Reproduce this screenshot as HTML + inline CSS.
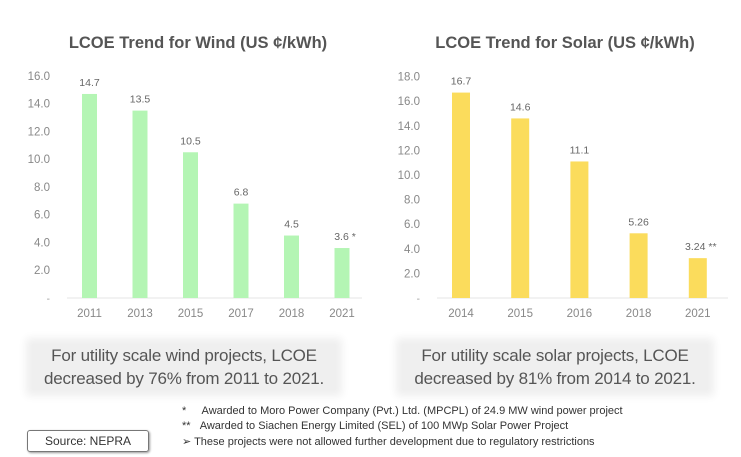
<!DOCTYPE html>
<html><head><meta charset="utf-8"><style>
body{margin:0;width:741px;height:457px;background:#fff;font-family:"Liberation Sans",sans-serif;overflow:hidden;position:relative}
.title{position:absolute;top:34px;font-weight:bold;font-size:16.5px;color:#555;text-align:center;width:340px}
.note{position:absolute;background:#efefef;box-shadow:0 0 8px 6px #efefef;color:#555;font-size:17px;line-height:23px;text-align:center;white-space:nowrap;letter-spacing:-0.2px}
.fn{position:absolute;font-size:11px;color:#333;white-space:nowrap}
</style></head><body>
<div class="title" style="left:28px">LCOE Trend for Wind (US ¢/kWh)</div>
<div class="title" style="left:395px">LCOE Trend for Solar (US ¢/kWh)</div>
<svg width="741" height="330" style="position:absolute;left:0;top:0">
<g id="wind"></g><g id="solar"></g></svg>
<div class="note" style="left:32px;top:344px;width:304px;height:46px">For utility scale wind projects, LCOE<br>decreased by 76% from 2011 to 2021.</div>
<div class="note" style="left:402px;top:344px;width:306px;height:46px">For utility scale solar projects, LCOE<br>decreased by 81% from 2014 to 2021.</div>
<div class="fn" style="left:182px;top:405px">*&nbsp;&nbsp;&nbsp;&nbsp;&nbsp;Awarded to Moro Power Company (Pvt.) Ltd. (MPCPL) of 24.9 MW wind power project</div>
<div class="fn" style="left:182px;top:420px">**&nbsp;&nbsp;&nbsp;Awarded to Siachen Energy Limited (SEL) of 100 MWp Solar Power Project</div>
<div class="fn" style="left:182px;top:435px">➢ These projects were not allowed further development due to regulatory restrictions</div>
<div style="position:absolute;left:27px;top:430px;width:120px;height:20px;border:1px solid #777;border-radius:3px;box-shadow:1px 1px 2px #999;font-size:12px;line-height:20px;text-align:center;color:#333">Source: NEPRA</div>
<script>
const windYears=["2011","2013","2015","2017","2018","2021"];
const windValues=[14.7,13.5,10.5,6.8,4.5,3.6];
const windLabels=["14.7","13.5","10.5","6.8","4.5","3.6 *"];
const windTicks=[2,4,6,8,10,12,14,16];
const solarYears=["2014","2015","2016","2018","2021"];
const solarValues=[16.7,14.6,11.1,5.26,3.24];
const solarLabels=["16.7","14.6","11.1","5.26","3.24 **"];
const solarTicks=[2,4,6,8,10,12,14,16,18];
const NS="http://www.w3.org/2000/svg";
function mk(p,t,a,txt){const e=document.createElementNS(NS,t);for(const k in a)e.setAttribute(k,a[k]);if(txt!==undefined)e.textContent=txt;p.appendChild(e);return e;}
function draw(g,cfg){
 const y=v=>cfg.base-v*cfg.ppu;
 const x=i=>cfg.x0+i*cfg.step;
 const ax=mk(g,'line',{x1:cfg.ax0,x2:cfg.ax1,y1:cfg.base,y2:cfg.base,stroke:'#e4e4e4','stroke-width':1});
 
 
 const z=mk(g,'text',{x:cfg.tx,y:cfg.base+4,'text-anchor':'end','font-size':10,fill:'#999'},'-');
 
 
 cfg.ticks.forEach(t=>{
  const e=mk(g,'text',{x:cfg.tx,y:y(t)+4,'text-anchor':'end','font-size':11.5,fill:'#888'},t.toFixed(1));
  
  
 });
 cfg.vals.forEach((v,i)=>{
  const b=mk(g,'rect',{x:x(i)-cfg.bw/2,y:y(v),width:cfg.bw,height:v*cfg.ppu,fill:cfg.color});
  
  
  const l=mk(g,'text',{x:x(i)-(cfg.labels[i].includes('*')?-3:0),y:y(v)-8,'text-anchor':'middle','font-size':10.5,fill:'#666'},cfg.labels[i]);
  
  
  const c=mk(g,'text',{x:x(i),y:cfg.base+19,'text-anchor':'middle','font-size':11.5,fill:'#888'},cfg.cats[i]);
  
  
 });
}
draw(document.getElementById('wind'),{name:'wind',cats:windYears,vals:windValues,labels:windLabels,ticks:windTicks,base:298,ppu:13.88,x0:89.5,step:50.5,bw:15,color:'#b4f5b4',ax0:67,ax1:362,tx:50});
draw(document.getElementById('solar'),{name:'solar',cats:solarYears,vals:solarValues,labels:solarLabels,ticks:solarTicks,base:298,ppu:12.3,x0:461,step:59.2,bw:18,color:'#fbdc5c',ax0:437,ax1:728,tx:420});
</script>
</body></html>
